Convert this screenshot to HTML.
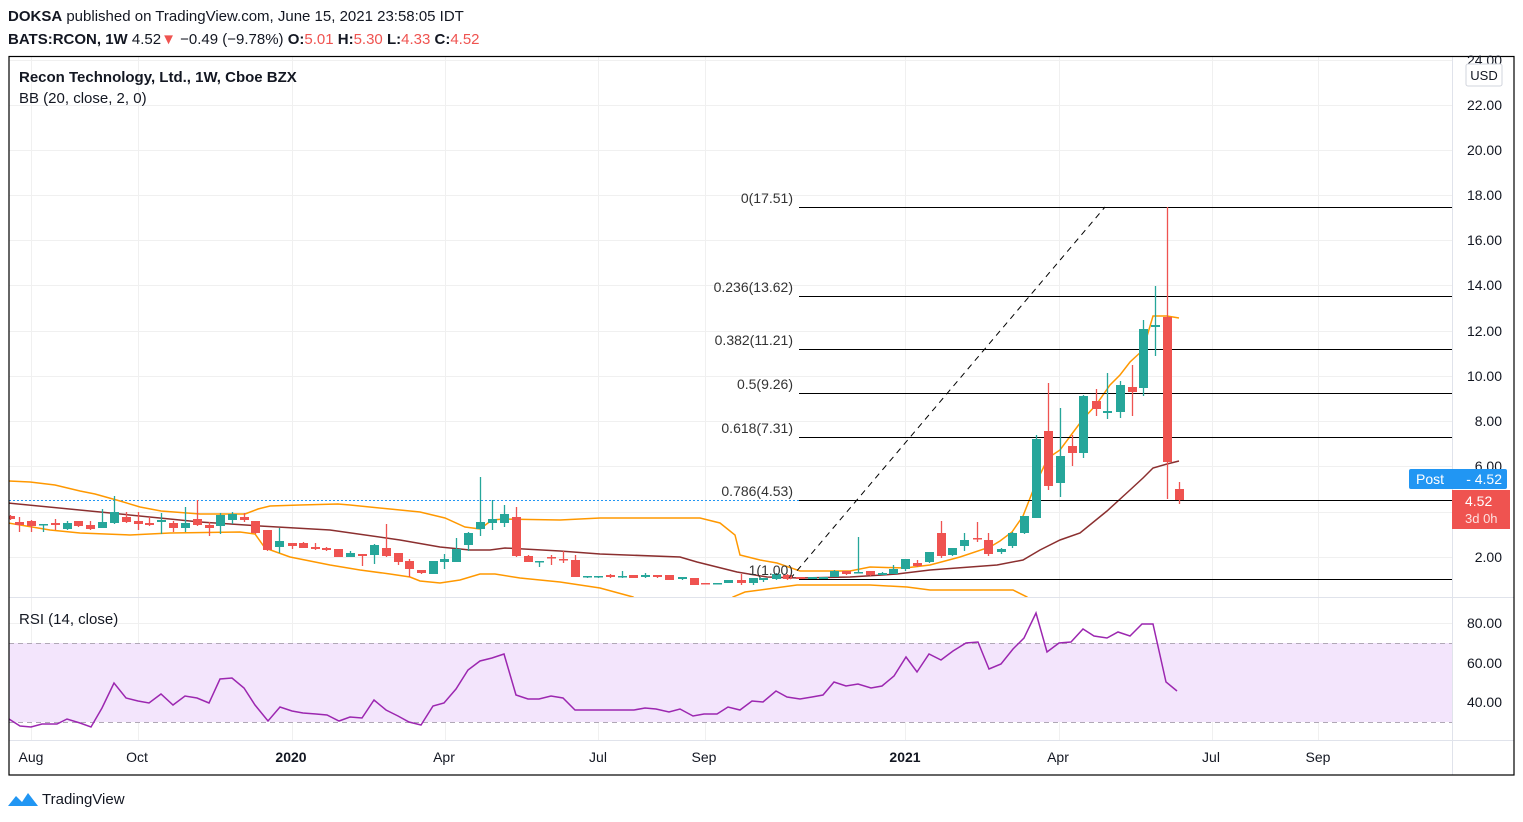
<!DOCTYPE html>
<html><head><meta charset="utf-8"><style>
html,body{margin:0;padding:0;background:#fff;width:1523px;height:822px;overflow:hidden}
svg{position:absolute;left:0;top:0}
text{font-family:"Liberation Sans",sans-serif}
</style></head><body>
<svg id="s" width="1523" height="822" xmlns="http://www.w3.org/2000/svg">
<defs><clipPath id="main"><rect x="9" y="57" width="1443" height="540"/></clipPath>
<clipPath id="rsi"><rect x="9" y="598" width="1443" height="142"/></clipPath></defs>
<g id="grid" stroke="#f0f0f0" stroke-width="1"></g>
<rect x="9" y="643" width="1443" height="79" fill="#f3e5fc"/>
<line x1="9" x2="1452" y1="643.5" y2="643.5" stroke="#b0a8b6" stroke-dasharray="5,4"/>
<line x1="9" x2="1452" y1="722.5" y2="722.5" stroke="#b0a8b6" stroke-dasharray="5,4"/>
<line x1="9" x2="1452" y1="500.5" y2="500.5" stroke="#2196f3" stroke-dasharray="2,2"/>
<g id="bb" clip-path="url(#main)" fill="none" stroke-width="1.5"></g>
<g id="fib" stroke="#000" stroke-width="1"></g>
<g id="candles" clip-path="url(#main)"></g>
<polyline id="rsiL" clip-path="url(#rsi)" fill="none" stroke="#9c27b0" stroke-width="1.5"/>
<line x1="9" x2="1514" y1="597.5" y2="597.5" stroke="#e0e3eb"/>
<line x1="9" x2="1514" y1="740.5" y2="740.5" stroke="#e0e3eb"/>
<line x1="1452.5" x2="1452.5" y1="57" y2="775" stroke="#e0e3eb"/>
<rect x="9" y="56.5" width="1505" height="718.5" fill="none" stroke="#000" stroke-width="1.2"/>
<g id="txt" font-size="14" fill="#131722"></g>
</svg>
<script>
const NS="http://www.w3.org/2000/svg";
function el(p,t,a,txt){const e=document.createElementNS(NS,t);for(const k in a)e.setAttribute(k,a[k]);if(txt!=null)e.textContent=txt;document.getElementById(p).appendChild(e);return e;}
[60,105,150,195,240,285,331,376,421,466,512,557,623,663,702].forEach(y=>el('grid','line',{x1:9,x2:1452,y1:y+.5,y2:y+.5}));
[31,138,292,445,598,705,905,1059,1212,1318].forEach(x=>el('grid','line',{x1:x+.5,x2:x+.5,y1:57,y2:740}));
const up=[[8,481],[30,482],[55,485],[80,491],[95,494],[120,501],[140,507],[161,511],[200,514],[245,514],[258,509],[270,506],[300,505],[338,504],[350,505],[390,509],[420,512],[445,518],[465,527],[480,529],[492,520],[504,519],[560,520],[600,518],[700,518],[720,523],[735,535],[740,555],[760,560],[777,563],[800,571],[850,571],[870,567],[905,568],[930,565],[960,557],[990,547],[1000,541],[1012,532],[1023,516],[1036,483],[1048,458],[1060,450],[1083,419],[1096,405],[1110,385],[1120,375],[1130,362],[1143,350],[1153,316],[1167,316],[1179,318]];
const mid=[[8,503],[100,512],[200,522],[260,526],[330,530],[400,540],[440,547],[470,550],[490,550],[505,548],[560,551],[600,554],[680,557],[697,562],[737,572],[767,577],[800,578],[850,577],[897,574],[930,570],[997,565],[1023,560],[1040,550],[1060,540],[1080,533],[1107,511],[1130,490],[1143,478],[1153,468],[1167,464],[1179,461]];
const lo=[[8,523],[50,530],[80,533],[130,535],[170,533],[240,532],[255,534],[265,548],[290,557],[330,565],[360,570],[390,574],[410,577],[420,581],[440,583],[460,580],[480,574],[495,574],[520,578],[560,582],[600,588],[633,597],[640,602]];
const lo2=[[728,602],[733,597],[745,592],[797,585],[870,585],[907,587],[930,590],[990,590],[1013,590],[1027,597],[1030,602]];
const P=a=>a.map(p=>p.join(',')).join(' ');
el('bb','polyline',{points:P(up),stroke:'#ff9800'});
el('bb','polyline',{points:P(lo),stroke:'#ff9800'});
el('bb','polyline',{points:P(lo2),stroke:'#ff9800'});
el('bb','polyline',{points:P(mid),stroke:'#8b2f2f'});
const C=[
[10,516,519,515,520,'r'],[19,522,525,517,532,'r'],[31,521,526,520,532,'r'],[43,524,525,524,532,'g'],[55,523,525,519,530,'r'],[67,523,529,521,530,'g'],[78,521,526,521,527,'r'],[90,525,529,521,530,'r'],[102,522,528,509,528,'g'],[114,512,523,496,524,'g'],[126,517,522,512,523,'r'],[138,521,524,512,530,'r'],[149,523,525,517,526,'r'],[161,520,522,513,534,'g'],[173,523,528,521,532,'r'],[185,523,528,507,532,'g'],[197,519,525,500,526,'r'],[209,525,528,522,536,'r'],[220,515,526,513,534,'g'],[232,514,520,512,524,'g'],[244,517,520,513,522,'r'],[255,521,533,521,534,'r'],[267,530,550,530,551,'r'],[279,541,547,528,553,'g'],[292,543,546,543,549,'r'],[303,543,548,542,548,'r'],[315,547,549,543,550,'r'],[326,548,550,547,551,'r'],[338,549,557,549,557,'r'],[350,553,557,551,557,'g'],[362,554,556,554,566,'r'],[374,545,555,544,564,'g'],[386,548,556,524,557,'r'],[398,553,562,553,565,'r'],[409,561,569,559,577,'r'],[421,570,573,570,574,'r'],[433,561,574,561,574,'g'],[444,559,562,554,569,'g'],[456,549,562,538,562,'g'],[468,533,545,532,551,'g'],[480,522,529,477,536,'g'],[492,519,523,500,530,'g'],[504,514,523,505,527,'g'],[516,517,556,507,557,'r'],[528,556,562,555,562,'r'],[539,561,562,561,567,'g'],[551,557,558,555,565,'r'],[563,559,560,551,563,'r'],[575,560,577,555,577,'r'],[587,576,577,576,578,'g'],[598,576,577,576,578,'g'],
[610,575,577,574,578,'r'],[622,576,577,571,578,'g'],[633,575,578,575,578,'r'],[645,575,577,573,578,'g'],[657,575,577,575,578,'r'],[669,575,580,575,580,'r'],[682,577,579,577,580,'g'],[694,578,585,578,585,'r'],[705,583,584,583,584,'r'],[717,583,584,583,584,'g'],[728,580,583,580,583,'g'],[741,580,583,574,585,'r'],[753,578,583,578,585,'g'],[763,578,580,578,582,'g'],[776,574,579,573,580,'g'],[787,575,579,574,580,'r'],[800,577,579,577,579,'r'],[812,577,579,577,579,'g'],[823,577,579,577,579,'g'],[834,571,577,570,577,'g'],[846,571,574,571,575,'r'],[858,572,573,537,573,'g'],[870,571,575,571,576,'r'],[882,573,575,572,575,'g'],[893,569,574,565,574,'g'],[905,559,569,559,571,'g'],[917,563,566,560,567,'r'],[929,552,562,552,563,'g'],[941,533,556,521,558,'r'],[952,548,555,548,556,'g'],[964,540,546,533,551,'g'],[977,538,539,522,542,'r'],[988,540,554,533,556,'r'],[1001,549,552,548,554,'g'],[1012,533,546,532,548,'g'],[1024,516,533,516,534,'g'],
[1036,439,518,435,518,'g'],[1048,431,486,383,490,'r'],[1060,456,483,408,497,'g'],[1072,446,453,435,466,'r'],[1083,396,453,395,458,'g'],[1096,401,409,389,416,'r'],[1107,411,413,373,419,'g'],[1120,385,412,381,418,'g'],[1132,387,392,365,416,'r'],[1143,329,388,320,396,'g'],[1155,325,327,286,356,'g'],[1167,317,462,207,499,'r'],[1179,489,500,482,504,'r']];
C.forEach(c=>{const col=c[5]=='g'?'#26a69a':'#ef5350';const x=c[0]+.5;
el('candles','line',{x1:x,x2:x,y1:c[3],y2:c[4],stroke:col,'stroke-width':1.3});
const h=Math.max(1.5,c[2]-c[1]);el('candles','rect',{x:c[0]-4,y:c[1],width:9,height:h,fill:col});});
[[207,'0(17.51)'],[296,'0.236(13.62)'],[349,'0.382(11.21)'],[393,'0.5(9.26)'],[437,'0.618(7.31)'],[500,'0.786(4.53)'],[579,'1(1.00)']].forEach(f=>{
el('fib','line',{x1:799,x2:1452,y1:f[0]+.5,y2:f[0]+.5});
el('txt','text',{x:793,y:f[0]-4,'text-anchor':'end','font-size':14,fill:'#333'},f[1]);});
el('fib','line',{x1:790,y1:579,x2:1105,y2:207,'stroke-dasharray':'6,5'});
const R=[[9,719],[20,726],[31,727],[42,724],[57,724],[67,719],[80,723],[91,727],[102,708],[114,683],[126,698],[138,701],[149,703],[161,694],[173,705],[185,696],[197,698],[209,703],[220,679],[232,678],[244,688],[255,705],[268,721],[280,707],[292,711],[303,713],[316,714],[327,715],[339,721],[350,717],[362,718],[374,700],[386,710],[398,716],[409,722],[421,725],[433,706],[444,703],[456,689],[468,670],[480,661],[492,658],[504,654],[516,695],[528,699],[539,699],[551,696],[563,698],[575,710],[634,710],[645,708],[656,709],[669,712],[680,709],[693,716],[704,714],[717,714],[728,707],[740,710],[752,701],[763,702],[776,691],[787,697],[800,699],[812,697],[823,695],[834,682],[846,686],[858,684],[871,688],[882,686],[894,676],[906,657],[917,672],[929,654],[941,660],[953,651],[966,643],[978,642],[989,669],[1001,664],[1013,649],[1024,638],[1036,613],[1047,652],[1059,643],[1071,642],[1083,629],[1094,636],[1107,638],[1118,632],[1130,636],[1142,624],[1153,624],[1166,682],[1177,691]];
document.getElementById('rsiL').setAttribute('points',P(R));
[[60,'24.00'],[105,'22.00'],[150,'20.00'],[195,'18.00'],[240,'16.00'],[285,'14.00'],[331,'12.00'],[376,'10.00'],[421,'8.00'],[466,'6.00'],[557,'2.00'],[623,'80.00'],[663,'60.00'],[702,'40.00']].forEach(t=>el('txt','text',{x:1502,y:t[0]+5,'text-anchor':'end'},t[1]));
el('txt','rect',{x:1466,y:64,width:36,height:22,fill:'#fff',stroke:'#d1d4dc',rx:2});
el('txt','text',{x:1484,y:80,'text-anchor':'middle','font-size':13},'USD');
el('txt','rect',{x:1409,y:469,width:98,height:20,fill:'#2196f3',rx:2});
el('txt','text',{x:1416,y:484,fill:'#fff'},'Post');
el('txt','text',{x:1502,y:484,fill:'#fff','text-anchor':'end'},'- 4.52');
el('txt','rect',{x:1452,y:490,width:58,height:39,fill:'#ef5350'});
el('txt','text',{x:1465,y:506,fill:'#fff'},'4.52');
el('txt','text',{x:1465,y:523,fill:'#fde0df','font-size':13},'3d 0h');
[[31,'Aug'],[137,'Oct'],[291,'2020',1],[444,'Apr'],[598,'Jul'],[704,'Sep'],[905,'2021',1],[1058,'Apr'],[1211,'Jul'],[1318,'Sep']].forEach(t=>el('txt','text',{x:t[0],y:762,'text-anchor':'middle','font-weight':t[2]?'bold':'normal'},t[1]));
const h1=el('txt','text',{x:8,y:21,'font-size':15});h1.innerHTML='<tspan font-weight="bold">DOKSA</tspan> published on TradingView.com, June 15, 2021 23:58:05 IDT';
const h2=el('txt','text',{x:8,y:44,'font-size':15});h2.innerHTML='<tspan font-weight="bold">BATS:RCON, 1W</tspan> 4.52<tspan fill="#ef5350">▼</tspan> −0.49 (−9.78%) <tspan font-weight="bold">O:</tspan><tspan fill="#ef5350">5.01</tspan> <tspan font-weight="bold">H:</tspan><tspan fill="#ef5350">5.30</tspan> <tspan font-weight="bold">L:</tspan><tspan fill="#ef5350">4.33</tspan> <tspan font-weight="bold">C:</tspan><tspan fill="#ef5350">4.52</tspan>';
el('txt','text',{x:19,y:82,'font-size':15,'font-weight':'bold'},'Recon Technology, Ltd., 1W, Cboe BZX');
el('txt','text',{x:19,y:103,'font-size':15},'BB (20, close, 2, 0)');
el('txt','text',{x:19,y:624,'font-size':15},'RSI (14, close)');
el('txt','path',{d:'M8 806 L16 796 L22 802 L28 793 L38 806 Z',fill:'#2196f3'});
el('txt','text',{x:42,y:804,'font-size':15},'TradingView');
</script>
</body></html>
